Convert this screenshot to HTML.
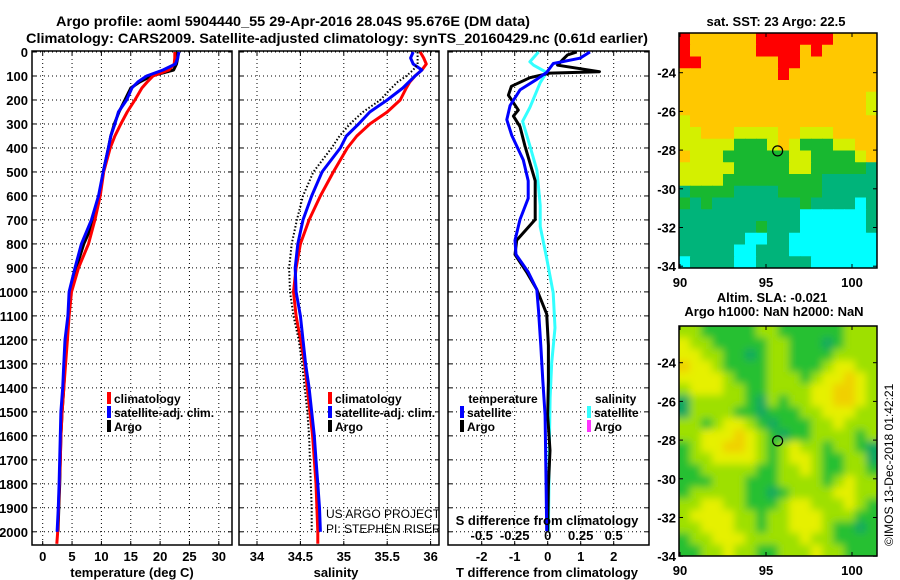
<!DOCTYPE html>
<html><head><meta charset="utf-8"><style>
html,body{margin:0;padding:0;background:#fff;}
svg{display:block;font-family:"Liberation Sans",Arial,sans-serif;}
.b{font-weight:bold;}
</style></head><body>
<svg id="chart" width="900" height="580" viewBox="0 0 900 580" xmlns="http://www.w3.org/2000/svg">
<rect width="900" height="580" fill="#fff"/>
<text class="b" x="56" y="26" font-size="14" textLength="474" lengthAdjust="spacingAndGlyphs">Argo profile: aoml 5904440_55 29-Apr-2016 28.04S 95.676E (DM data)</text>
<text class="b" x="26" y="43" font-size="14" textLength="622" lengthAdjust="spacingAndGlyphs">Climatology: CARS2009. Satellite-adjusted climatology: synTS_20160429.nc (0.61d earlier)</text>
<g id="g"></g>
</svg>
<script>
const depths=[0,25,50,75,100,125,150,200,250,300,350,400,500,600,700,800,900,1000,1100,1200,1300,1400,1500,1600,1700,1800,1900,2000,2050];
const tempClim=[22.5,22.5,22.4,21.5,18.8,17.8,16.9,15.7,14.4,13.3,12.3,11.5,10.4,9.8,8.9,7.8,6.1,4.9,4.5,4.2,3.9,3.6,3.3,3.1,3.0,2.85,2.7,2.55,2.4];
const tempSat=[23.2,23.0,22.6,20.5,17.7,16.2,15.2,14.3,12.9,12.3,11.6,11.2,10.3,9.5,8.3,6.6,5.5,4.5,4.3,3.8,3.6,3.4,3.1,3.0,2.9,2.8,2.65,2.45,null];
const tempArgo=[22.9,23.0,22.8,22.3,18.5,16.5,15.0,14.0,13.0,12.2,11.6,11.2,10.3,9.7,8.8,7.0,5.7,4.6,4.4,4.0,3.8,3.6,3.3,3.1,3.0,2.9,2.75,2.6,null];
const salClim=[35.88,35.92,35.95,35.9,35.82,35.76,35.72,35.65,35.5,35.3,35.15,35.04,34.88,34.73,34.6,34.5,34.45,34.42,34.45,34.5,34.55,34.58,34.61,34.64,34.66,34.68,34.69,34.7,34.7];
const salSat=[35.8,35.77,35.8,35.9,35.82,35.75,35.68,35.5,35.3,35.17,35.03,34.96,34.75,34.63,34.53,34.47,34.44,34.45,34.5,34.53,34.56,34.6,34.63,34.66,34.68,34.7,34.72,34.73,null];
const salArgo=[35.85,35.85,35.85,35.8,35.72,35.62,35.55,35.42,35.22,35.07,34.95,34.86,34.65,34.53,34.46,34.4,34.37,34.38,34.42,34.48,34.52,34.55,34.58,34.6,34.61,34.62,34.63,34.63,null];
const diffArgoDepth=[0,12,30,55,82,88,107,143,180,242,267,311,391,537,698,785,844,917,990,1092,1223,1369,1515,1661,1807,1997];
const diffTArgo=[0.88,0.6,0.47,0.3,1.57,0.07,-0.54,-1.1,-1.19,-0.89,-1.04,-0.84,-0.69,-0.38,-0.38,-0.94,-0.99,-0.64,-0.33,-0.03,0.02,0.02,0.0,0.07,0.02,0.0];
const diffSatDepth=[0,26,48,85,114,158,223,282,347,450,537,610,698,785,844,917,990,1077,1223,1369,1515,1807,1997];
const diffTSat=[1.28,0.98,0.17,-0.03,-0.33,-0.84,-1.14,-1.24,-1.09,-0.74,-0.59,-0.59,-0.84,-0.99,-0.96,-0.59,-0.33,-0.28,-0.21,-0.15,-0.08,-0.05,-0.03];
const diffSDepth=[0,41,55,85,128,231,289,391,493,639,727,858,1004,1150,1296,1442,1661,1997];
const diffSSat=[-0.07,-0.135,-0.107,-0.008,-0.057,-0.135,-0.19,-0.135,-0.082,-0.057,-0.057,-0.008,0.042,0.055,0.03,0.018,0.012,0.005];
const depthTicks=[0,100,200,300,400,500,600,700,800,900,1000,1100,1200,1300,1400,1500,1600,1700,1800,1900,2000];
const tempTicks=[0,5,10,15,20,25,30];
const salTicks=[34,34.5,35,35.5,36];
const salTickLabels=["34","34.5","35","35.5","36"];
const tdTicks=[-2,-1,0,1,2];
const sdTicks=[-0.5,-0.25,0,0.25,0.5];
const sdTickLabels=["-0.5","-0.25","0","0.25","0.5"];
const latTicks=[-24,-26,-28,-30,-32,-34];
const lonTicks=[90,95,100];
const sstTitle="sat. SST: 23 Argo: 22.5";
const argoLon=95.676, argoLat=-28.04;
const sstRows=[
"roooooorrrrrrroooo","roooooorrrrorooooo","rrooooooorrooooooo","oooooooooroooooooo",
"oooooooooooooooooo","oooooooooooooooooy","oooooooooooooooooy","yooooooooooooooooo",
"yyoooyyyyooyyyoooo","yyyyygggyoygggyyoo","oyyyggggggyyggggyo","yyyyygggggyygggggt",
"yyyygggggggggttttt","tggggttttggggttttt","gtgttttttttgttttct","tttttttttttcccccct",
"tttttttgtttcccccct","ttttttccttcccccccc","tttttcctttcccccccc","cttttcctttttcccccc"];
const slaRows=[
"LLGGGGGLLGGGGGGLLL","YLLGGGGGLLGGGDGLLL","YYLLGGDGLLGGGGLLLL","OYYLGGGGLLGGGLYYLL",
"YYYYLGGGLLLGLYYOYL","LYYYLLGGLLLLYYOOYL","DLLLLLGDLGLLYYOOYL","DLLLLGGDGGGLLYYYLL",
"LLGLYYLGDGGGLLYLLL","LLYYYOYLGDGGLLLLGL","GLYYOOYLGLYLLGLLGD","GLLYYYYLGLYYLGGLLD",
"GGLLLLLGGLLYLGGLLG","GGGLLLGGGLLLLGLYLL","GLLLLLGGDGLLLLYYLL","LLYYLLGGGLYYLLLYLG",
"LYYYYLLGLLYYYLLLGG","LLYYYLLGLLYYYLGGDG","GLLYYYLLLLLYLLGGGG","GGLLYLLGGLLLYLLGGG"];
const sstColor={r:"#ff0000",o:"#ffc800",y:"#d4f000",g:"#18b830",t:"#00b47a",c:"#00ffff"};
const slaColor={Y:"#e6f000",L:"#9ee000",G:"#28c030",D:"#08a860",O:"#f0d000"};

const NS="http://www.w3.org/2000/svg";
const root=document.getElementById('g');
function el(tag,attrs,parent,txt){const e=document.createElementNS(NS,tag);for(const k in attrs)e.setAttribute(k,attrs[k]);if(txt!==undefined)e.textContent=txt;(parent||root).appendChild(e);return e;}
const yD=d=>52+d*0.2399;
const PT={x0:32,x1:232}, PS={x0:239,x1:439}, PD={x0:448,x1:649}, YB=545, YT=51;
const xT=t=>42.7+t*5.87;
const xS=s=>257+(s-34)*86.8;
const xTD=t=>547.7+t*33;
const xSD=s=>547.7+s*132;

function panel(p,name,xTicksPos){
  const g=el('g',{},root);
  
  
  xTicksPos.forEach(x=>{el('line',{x1:x,x2:x,y1:YT,y2:YB,stroke:'#000','stroke-width':1,'stroke-dasharray':'1 3'},g);
    el('line',{x1:x,x2:x,y1:YT,y2:YT+4,stroke:'#000'},g);el('line',{x1:x,x2:x,y1:YB,y2:YB-4,stroke:'#000'},g);});
  depthTicks.forEach(d=>{const y=yD(d);el('line',{x1:p.x0,x2:p.x1,y1:y,y2:y,stroke:'#000','stroke-width':1,'stroke-dasharray':'1 3'},g);
    el('line',{x1:p.x0,x2:p.x0+4,y1:y,y2:y,stroke:'#000'},g);el('line',{x1:p.x1,x2:p.x1-4,y1:y,y2:y,stroke:'#000'},g);});
  const r=el('rect',{x:p.x0,y:YT,width:p.x1-p.x0,height:YB-YT,fill:'none',stroke:'#000','stroke-width':1.5},g);
  
  
  return g;
}
function series(xs,ds,xf,color,name,dash,w,clip){
  let pts=[];
  ds.forEach((d,i)=>{if(xs[i]!==null)pts.push(xf(xs[i]).toFixed(1)+','+yD(d).toFixed(1));});
  const a={points:pts.join(' '),fill:'none',stroke:color,'stroke-width':w||3,'stroke-linejoin':'round'};
  if(dash)a['stroke-dasharray']=dash;
  if(clip)a['clip-path']=clip;
  const l=el('polyline',a,root);
  
  
}
function legend(x,y,items){
  items.forEach((it,i)=>{const yy=y+i*14;
    const r=el('rect',{x:x,y:yy-6,width:4,height:12,fill:it[0]});
    
    
    const t=el('text',{x:x+7,y:yy+5,'font-size':12,'font-weight':'bold'},root,it[1]);
    
    });
}
const defs=el('defs',{});
[['cT',PT],['cS',PS],['cD',PD]].forEach(([id,p])=>{const c=el('clipPath',{id:id},defs);el('rect',{x:p.x0,y:YT,width:p.x1-p.x0,height:YB-YT},c);});

depthTicks.forEach(d=>{const t=el('text',{x:28,y:yD(d)+5,'text-anchor':'end','font-size':13,'font-weight':'bold'},root,String(d));
  
  });

panel(PT,'temperature-panel',tempTicks.map(xT));
tempTicks.forEach(v=>{const t=el('text',{x:xT(v),y:561,'text-anchor':'middle','font-size':13,'font-weight':'bold'},root,String(v));
  
  });
let t1=el('text',{x:132,y:577,'text-anchor':'middle','font-size':13,'font-weight':'bold'},root,'temperature (deg C)');


series(tempArgo,depths,xT,'#000','temperature-argo-line',null,3,'url(#cT)');
series(tempClim,depths,xT,'#f00','temperature-climatology-line',null,3,'url(#cT)');
series(tempSat,depths,xT,'#00f','temperature-satellite-line',null,3,'url(#cT)');
legend(107,398,[['#f00','climatology','climatology'],['#00f','satellite-adj. clim.','satellite'],['#000','Argo','argo']]);

panel(PS,'salinity-panel',salTicks.map(xS));
salTicks.forEach((v,i)=>{const t=el('text',{x:xS(v),y:561,'text-anchor':'middle','font-size':13,'font-weight':'bold'},root,salTickLabels[i]);
  
  });
let t2=el('text',{x:336,y:577,'text-anchor':'middle','font-size':13,'font-weight':'bold'},root,'salinity');


series(salClim,depths,xS,'#f00','salinity-climatology-line',null,3,'url(#cS)');
series(salSat,depths,xS,'#00f','salinity-satellite-line',null,3,'url(#cS)');
series(salArgo,depths,xS,'#000','salinity-argo-line','1.5 2',2,'url(#cS)');
legend(328,398,[['#f00','climatology','sal-climatology'],['#00f','satellite-adj. clim.','sal-satellite'],['#000','Argo','sal-argo']]);
const cg=el('g',{'clip-path':'url(#cS)'});
let c1=el('text',{x:326,y:518,'font-size':12},cg,'US ARGO PROJECT');


let c2=el('text',{x:326,y:533,'font-size':12},cg,'PI: STEPHEN RISER');



panel(PD,'difference-panel',tdTicks.map(xTD));
series(diffSSat,diffSDepth,xSD,'#33ffff','salinity-diff-satellite-line',null,3,'url(#cD)');
series(diffTArgo,diffArgoDepth,xTD,'#000','temperature-diff-argo-line',null,3,'url(#cD)');
series(diffTSat,diffSatDepth,xTD,'#00f','temperature-diff-satellite-line',null,3,'url(#cD)');
tdTicks.forEach(v=>{const t=el('text',{x:xTD(v),y:561,'text-anchor':'middle','font-size':13,'font-weight':'bold'},root,String(v));
  
  });
sdTicks.forEach((v,i)=>{const t=el('text',{x:xSD(v),y:540,'text-anchor':'middle','font-size':13,'font-weight':'bold'},root,sdTickLabels[i]);
  
  });
let t3=el('text',{x:547,y:525,'text-anchor':'middle','font-size':13,'font-weight':'bold'},root,'S difference from climatology');


let t4=el('text',{x:547,y:577,'text-anchor':'middle','font-size':13,'font-weight':'bold'},root,'T difference from climatology');


let lh1=el('text',{x:503,y:403,'text-anchor':'middle','font-size':12,'font-weight':'bold'},root,'temperature');


let lh2=el('text',{x:595,y:403,'font-size':12,'font-weight':'bold'},root,'salinity');


legend(460,412,[['#00f','satellite','diff-t-satellite'],['#000','Argo','diff-t-argo']]);
legend(587,412,[['#33ffff','satellite','diff-s-satellite'],['#ff33ff','Argo','diff-s-argo']]);

function map(y0,y1,rows,colors,name,blur){
  const x0=679,x1=877;
  const lonX=l=>680+(l-90)*17.2;
  const latY=l=>y0+( -22 - l)*19.35 + (y0===33?1:-2);
  const g=el('g',{},root);
  
  
  const cid='clip'+name;
  const cp=el('clipPath',{id:cid},defs);el('rect',{x:x0,y:y0,width:x1-x0,height:y1-y0},cp);
  const cells=el('g',{'clip-path':'url(#'+cid+')'},g);
  const inner=el('g',blur?{filter:'url(#blur)'}:{},cells);
  const nr=rows.length, nc=rows[0].length;
  const cw=(x1-x0)/nc, ch=(y1-y0)/nr;
  rows.forEach((row,r)=>{for(let c=0;c<row.length;c++){
    const pad=blur?cw:0;
    const cell=el('rect',{x:(x0+c*cw-(c===0?pad:0)).toFixed(2),y:(y0+r*ch-(r===0?pad:0)).toFixed(2),width:(cw+0.6+(c===0||c===row.length-1?pad:0)).toFixed(2),height:(ch+0.6+(r===0||r===nr-1?pad:0)).toFixed(2),fill:colors[row[c]]||'#9ee000'},inner);
    
    }});
  const fr=el('rect',{x:x0,y:y0,width:x1-x0,height:y1-y0,fill:'none',stroke:'#000','stroke-width':1.5},g);
  
  
  latTicks.forEach(l=>{const y=latY(l);
    el('line',{x1:x0,x2:x0+4,y1:y,y2:y,stroke:'#000'},g);el('line',{x1:x1,x2:x1-4,y1:y,y2:y,stroke:'#000'},g);
    const t=el('text',{x:676,y:y+5,'text-anchor':'end','font-size':13,'font-weight':'bold'},g,String(l));
    
    });
  lonTicks.forEach(l=>{const x=lonX(l);
    el('line',{x1:x,x2:x,y1:y0,y2:y0+4,stroke:'#000'},g);el('line',{x1:x,x2:x,y1:y1,y2:y1-4,stroke:'#000'},g);
    const t=el('text',{x:x,y:y1+19,'text-anchor':'middle','font-size':13,'font-weight':'bold'},g,String(l));
    
    });
  const m=el('circle',{cx:lonX(argoLon),cy:latY(argoLat),r:5,fill:'none',stroke:'#000','stroke-width':1.2},g);
  
  
}
const f=el('filter',{id:'blur',x:'-10%',y:'-10%',width:'120%',height:'120%'},defs);
el('feGaussianBlur',{stdDeviation:4},f);
map(33,268,sstRows,sstColor,'sst-map',false);
map(326,556,slaRows,slaColor,'sla-map',true);
let m1=el('text',{x:776,y:26,'text-anchor':'middle','font-size':13,'font-weight':'bold'},root,sstTitle);


let m2=el('text',{x:772,y:302,'text-anchor':'middle','font-size':13,'font-weight':'bold'},root,'Altim. SLA: -0.021');


let m3=el('text',{x:774,y:316,'text-anchor':'middle','font-size':13,'font-weight':'bold'},root,'Argo h1000: NaN h2000: NaN');


let ts=el('text',{x:0,y:0,'font-size':12,transform:'translate(893,546) rotate(-90)'},root,'\u00A9IMOS 13-Dec-2018 01:42:21');


</script>
</body></html>
